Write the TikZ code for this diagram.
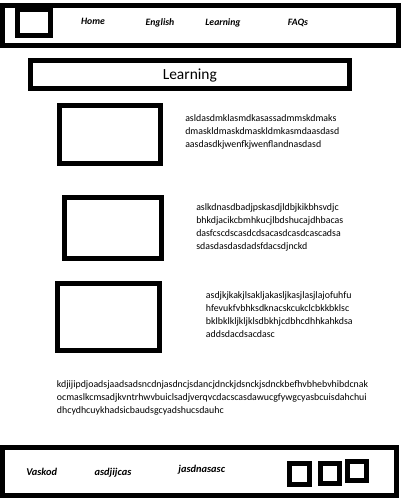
\documentclass[tikz,border=0pt]{standalone}
\usepackage{fontspec}
\setmainfont{Carlito}
\begin{document}
\begin{tikzpicture}[x=0.75pt,y=0.75pt,yscale=-1,xscale=1,
    frame/.style={line width=3.75pt},
    navlink/.style={font=\fontsize{7.3}{9}\selectfont\bfseries\itshape, inner sep=0pt, anchor=base},
    footlink/.style={font=\fontsize{7.8}{9}\selectfont\bfseries\itshape, inner sep=0pt, anchor=base},
    bodytext/.style={font=\fontsize{7.4}{9.7}\selectfont, align=left, inner sep=0pt, anchor=north west}]
    \useasboundingbox (0,0) rectangle (413,500);

    %Shape: Rectangle [header bar]
    \draw [frame] (2,5) rectangle (398,45.5);
    %Shape: Square [logo]
    \draw [frame] (17.5,9.2) rectangle (50.2,35.2);
    %Shape: Rectangle [title bar]
    \draw [frame] (30.5,60.8) rectangle (349.5,88.2);
    %Shape: Rectangle [picture 1]
    \draw [frame] (59.8,105.8) rectangle (160.2,163.2);
    %Shape: Rectangle [picture 2]
    \draw [frame] (64.8,197.5) rectangle (161.5,258.2);
    %Shape: Rectangle [picture 3]
    \draw [frame] (57.5,283.5) rectangle (159.5,350.8);
    %Shape: Rectangle [footer bar]
    \draw [frame] (2,447.5) rectangle (396.5,495);
    %Shape: Square [footer icons]
    \draw [frame] (289.8,463.2) rectangle (309.2,484.2);
    \draw [frame] (320.2,463.2) rectangle (339.2,483.2);
    \draw [frame] (347.5,461.5) rectangle (366.8,480.8);

    % Text Node
    \node [navlink] (home) at (93,24) {Home};
    % Text Node
    \node [navlink] (english) at (160,25.5) {English};
    % Text Node
    \node [navlink] (learning) at (223,25.5) {Learning};
    % Text Node
    \node [navlink] (faqs) at (298,25) {FAQs};
    % Text Node
    \node [font=\fontsize{11.6}{14}\selectfont, inner sep=0pt, anchor=base] (title) at (189.8,79.3) {Learning};
    % Text Node
    \node [bodytext] (text1) at (185,114.4) {asldasdmklasmdkasassadmmskdmaks\\dmaskldmaskdmaskldmkasmdaasdasd\\aasdasdkjwenfkjwenflandnasdasd};
    % Text Node
    \node [bodytext] (text2) at (196,203.4) {aslkdnasdbadjpskasdjldbjkikbhsvdjc\\bhkdjacikcbmhkucjlbdshucajdhbacas\\dasfcscdscasdcdsacasdcasdcascadsa\\sdasdasdasdadsfdacsdjnckd};
    % Text Node
    \node [bodytext] (text3) at (205.7,291.1) {asdjkjkakjlsakljakasljkasjlasjlajofuhfu\\hfevukfvbhksdknacskcukclcbkkbklsc\\bklbklkljkljklsdbkhjcdbhcdhhkahkdsa\\addsdacdsacdasc};
    % Text Node
    \node [bodytext] (text4) at (56.7,380.4) {kdjijipdjoadsjaadsadsncdnjasdncjsdancjdnckjdsnckjsdnckbefhvbhebvhibdcnak\\ocmaslkcmsadjkvntrhwvbuiclsadjverqvcdacscasdawucgfywgcyasbcuisdahchui\\dhcydhcuykhadsicbaudsgcyadshucsdauhc};
    % Text Node
    \node [footlink] (vaskod) at (41.7,475) {Vaskod};
    % Text Node
    \node [footlink] (asdjijcas) at (113,475.3) {asdjijcas};
    % Text Node
    \node [footlink] (jasdnasasc) at (201.7,472.3) {jasdnasasc};

\end{tikzpicture}
\end{document}
